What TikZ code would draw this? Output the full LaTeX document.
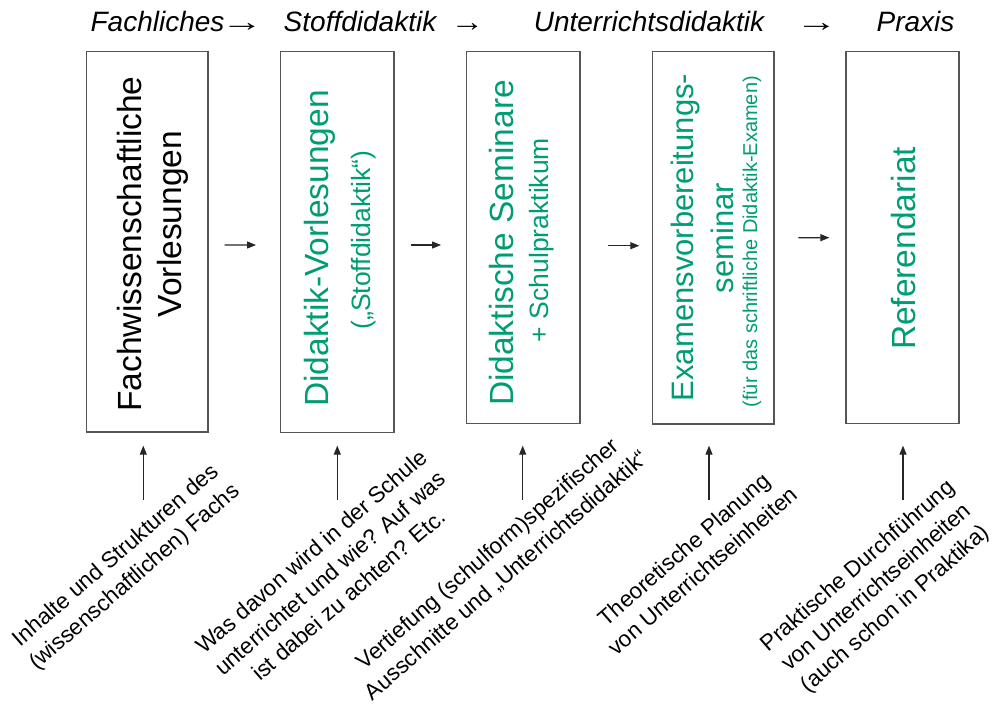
\documentclass[tikz,border=0pt]{standalone}
\usepackage{fontspec}
\setmainfont{Liberation Sans}
\usetikzlibrary{arrows.meta}
\definecolor{dgreen}{RGB}{0,156,115}
\definecolor{boxgray}{RGB}{85,85,85}
\begin{document}
\begin{tikzpicture}[x=1pt,y=-1pt,
  box/.style={draw=boxgray,line width=1.3pt,inner sep=0pt},
  vtxt/.style={rotate=90,anchor=base,inner sep=0pt},
  bigf/.style={font=\fontsize{33.5}{40}\selectfont},
  midf/.style={font=\fontsize{31}{38}\selectfont},
  smlf/.style={font=\fontsize{26.5}{32}\selectfont},
  tinyf/.style={font=\fontsize{20}{24}\selectfont},
  grn/.style={text=dgreen},
  arr/.style={draw=black!85,line width=1.2pt,-{Triangle[length=9pt,width=7pt]}},
  diag/.style={rotate=41,align=center,inner sep=0pt,font=\fontsize{22.5}{28.5}\selectfont},
  head/.style={anchor=base,inner sep=0pt,font=\fontsize{28}{32}\selectfont\itshape}]
\useasboundingbox (0,0) rectangle (992,704);

% headers
\node[head] (h1) at (157.5,31) {Fachliches};
\node[head] (ha1) at (242,31) {\scalebox{1.5}[1]{→}};
\node[head] (h2) at (360,31) {Stoffdidaktik};
\node[head] (ha2) at (467.5,31) {\scalebox{1.2}[1]{→}};
\node[head] (h3) at (649,31) {Unterrichtsdidaktik};
\node[head] (ha3) at (816.5,31) {\scalebox{1.5}[1]{→}};
\node[head] (h4) at (915.5,31) {Praxis};

% boxes
\node[box,minimum width=121.3pt,minimum height=380.3pt] (box1) at (147.35,241.85) {};
\node[box,minimum width=113.3pt,minimum height=380.8pt] (box2) at (337.35,242.1) {};
\node[box,minimum width=113.3pt,minimum height=371.8pt] (box3) at (523.35,237.6) {};
\node[box,minimum width=121.3pt,minimum height=372.3pt] (box4) at (713.35,237.85) {};
\node[box,minimum width=113pt,minimum height=371.8pt] (box5) at (902.5,237.6) {};

% box texts
\node[vtxt,bigf] (b1a) at (141.5,244) {Fachwissenschaftliche};
\node[vtxt,bigf] (b1b) at (181,224) {Vorlesungen};
\node[vtxt,bigf,grn] (b2a) at (328,248.5) {Didaktik-Vorlesungen};
\node[vtxt,smlf,grn] (b2b) at (370,240) {(„Stoffdidaktik“)};
\node[vtxt,bigf,grn] (b3a) at (513,243) {Didaktische Seminare};
\node[vtxt,smlf,grn] (b3b) at (548,240) {+ Schulpraktikum};
\node[vtxt,midf,grn] (b4a) at (693,237.5) {Examensvorbereitungs-};
\node[vtxt,midf,grn] (b4b) at (733,238) {seminar};
\node[vtxt,tinyf,grn] (b4c) at (757,241.7) {(für das schriftliche Didaktik-Examen)};
\node[vtxt,bigf,grn] (b5a) at (915,248.5) {Referendariat};

% horizontal arrows
\draw[arr,shorten <=16pt,shorten >=24pt] ([yshift=-3pt]box1.east) -- ([yshift=-3pt]box2.west);
\draw[arr,shorten <=16pt,shorten >=25pt] ([yshift=-2.9pt]box2.east) -- ([yshift=-7.4pt]box3.west);
\draw[arr,shorten <=27.7pt,shorten >=12.7pt] ([yshift=-8.1pt]box3.east) -- ([yshift=-7.85pt]box4.west);
\draw[arr,shorten <=23.7pt,shorten >=16pt] (box4.east) -- (box5.west);

% bottom texts
\node[diag] (t1) at (125.8,567) {Inhalte und Strukturen des\\(wissenschaftlichen) Fachs};
\node[diag] (t2) at (330,573) {Was davon wird in der Schule\\unterrichtet und wie? Auf was\\ist dabei zu achten? Etc.};
\node[diag] (t3) at (497.5,565) {Vertiefung (schulform)spezifischer\\Ausschnitte und „Unterrichtsdidaktik“};
\node[diag] (t4) at (693,560) {Theoretische Planung\\von Unterrichtseinheiten};
\node[diag] (t5) at (877,588) {Praktische Durchführung\\von Unterrichtseinheiten\\(auch schon in Praktika)};

% vertical arrows
\coordinate (s1) at (143.3,500);
\coordinate (s2) at (337.3,500);
\coordinate (s3) at (522.7,500);
\coordinate (s4) at (709,500);
\coordinate (s5) at (903,500);
\draw[arr,shorten >=13pt] (s1) -- (s1 |- box1.south);
\draw[arr,shorten >=12.5pt] (s2) -- (s2 |- box2.south);
\draw[arr,shorten >=21.5pt] (s3) -- (s3 |- box3.south);
\draw[arr,shorten >=21pt] (s4) -- (s4 |- box4.south);
\draw[arr,shorten >=21.5pt] (s5) -- (s5 |- box5.south);
\end{tikzpicture}
\end{document}
